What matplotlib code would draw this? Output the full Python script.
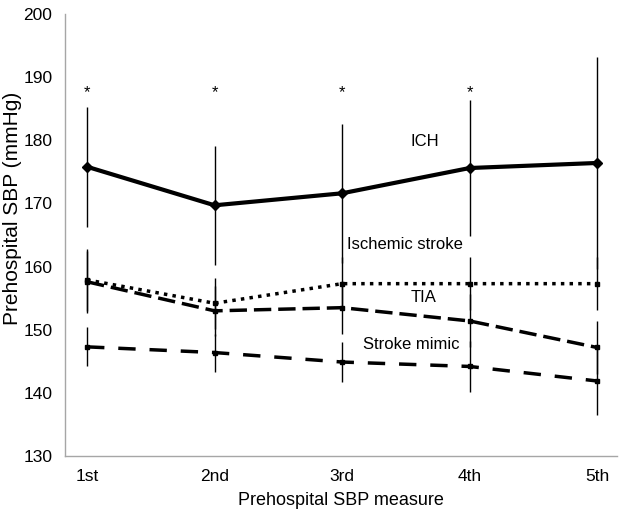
import matplotlib
matplotlib.use("Agg")
import matplotlib.pyplot as plt

plt.rcParams["font.family"] = ["Liberation Sans", "DejaVu Sans"]

measures = ["1st", "2nd", "3rd", "4th", "5th"]
ich = [175.8, 169.7, 171.6, 175.6, 176.4]
ich_err = [9.5, 9.4, 11.0, 10.7, 16.7]
ischemic = [157.9, 154.2, 157.3, 157.3, 157.3]
ischemic_err = [4.9, 4.0, 4.2, 4.2, 4.2]
tia = [157.6, 153.0, 153.5, 151.4, 147.2]
tia_err = [4.9, 4.0, 4.2, 4.2, 4.2]
mimic = [147.3, 146.4, 144.9, 144.2, 141.9]
mimic_err = [3.1, 3.0, 3.2, 4.0, 5.4]
star_pos = [1, 2, 3, 4]
star_y = 187.6

x = list(range(1, len(measures) + 1))

fig = plt.figure(figsize=(6.19, 5.12), dpi=100)
ax = fig.add_axes([0.105, 0.109, 0.892, 0.864])

# error bars first so the lines sit on top
for vals, errs in [(ich, ich_err), (ischemic, ischemic_err), (tia, tia_err), (mimic, mimic_err)]:
    ax.errorbar(x, vals, yerr=errs, fmt="none", ecolor="black", elinewidth=1.0, capsize=0, zorder=2)

ax.plot(x, ich, color="black", lw=3.0, marker="D", ms=5, zorder=4)
ax.plot(x, ischemic, color="black", lw=2.5, linestyle=(0, (1, 1.5)), marker="s", ms=3.5, zorder=4)
ax.plot(x, tia, color="black", lw=2.5, linestyle=(0, (5, 2)), marker="s", ms=3, zorder=4)
ax.plot(x, mimic, color="black", lw=2.5, linestyle=(0, (5, 4)), marker="s", ms=3, zorder=4)

for p in star_pos:
    ax.text(p, star_y, "*", ha="center", va="center", fontsize=12)

label_box = dict(facecolor="white", edgecolor="none", pad=1.5)
ax.text(3.65, 179.8, "ICH", ha="center", va="center", fontsize=12, bbox=label_box, zorder=3)
ax.text(3.49, 163.5, "Ischemic stroke", ha="center", va="center", fontsize=12, bbox=label_box, zorder=3)
ax.text(3.64, 155.1, "TIA", ha="center", va="center", fontsize=12, bbox=label_box, zorder=3)
ax.text(3.54, 147.7, "Stroke mimic", ha="center", va="center", fontsize=12, bbox=label_box, zorder=3)

ax.set_xlim(0.827, 5.157)
ax.set_ylim(130, 200)
ax.set_xticks(x)
ax.set_xticklabels(measures)
ax.set_yticks(range(130, 201, 10))
ax.tick_params(axis="both", length=0, labelsize=12.5)
ax.tick_params(axis="y", pad=9)
ax.tick_params(axis="x", pad=9)
for side in ["top", "right"]:
    ax.spines[side].set_visible(False)
for side in ["left", "bottom"]:
    ax.spines[side].set_color("#a6a6a6")
    ax.spines[side].set_linewidth(1.0)

ax.set_xlabel("Prehospital SBP measure", fontsize=13, labelpad=6)
ax.set_ylabel("Prehospital SBP (mmHg)", fontsize=15)
ax.yaxis.set_label_coords(-0.078, 0.56)

fig.savefig("out.png", dpi=100)
